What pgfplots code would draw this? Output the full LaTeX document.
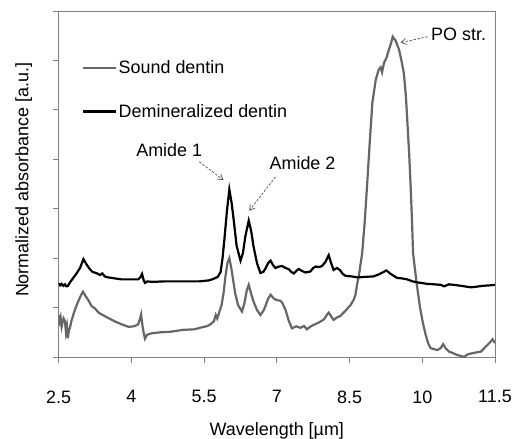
\documentclass[border=0pt]{standalone}
\usepackage{fontspec}
\setmainfont{Liberation Sans}
\usepackage{pgfplots}
\pgfplotsset{compat=1.18}
\usetikzlibrary{arrows.meta}

\definecolor{soundgray}{HTML}{666666}
\definecolor{axgray}{HTML}{808080}
\definecolor{arrgray}{HTML}{505050}

\newcommand{\lblfont}{\fontsize{18}{21}\selectfont}

\begin{document}
\begin{tikzpicture}
\path[use as bounding box] (-58.7bp,-82bp) rectangle (456.3bp,357bp);
\begin{axis}[
    scale only axis, width=436.3bp, height=346bp,
    at={(0,0)}, anchor=south west,
    xmin=2.5, xmax=11.5, ymin=0, ymax=7,
    xtick={2.5,4,5.5,7,8.5,10,11.5},
    xticklabels={2.5,4,5.5,7,8.5,10,11.5},
    ytick={0,1,...,7}, yticklabels={},
    tick align=outside, tick pos=left, major tick length=6bp,
    axis line style={axgray, line width=0.8bp},
    every tick/.style={axgray, line width=0.8bp},
    /pgf/number format/assume math mode=true,
    tick label style={font=\lblfont},
    xticklabel style={yshift=-24bp},
    xlabel={Wavelength [µm]},
    ylabel={Normalized absorbance [a.u.]},
    label style={font=\lblfont},
    xlabel style={at={(axis description cs:0.5,0)}, anchor=north, yshift=-62bp},
    ylabel style={at={(axis description cs:-0.08,0.512)}, anchor=center},
    legend style={draw=none, fill=none, at={(axis description cs:0.045,0.868)},
        anchor=north west, font=\lblfont, row sep=25bp},
    legend cell align=left,
    legend image code/.code={\draw[#1] (0bp,0bp) -- (33bp,0bp);},
]
% sound dentin
\addplot[soundgray, line width=2.2bp] coordinates {
(2.50,0.85)(2.52,0.72)(2.54,0.80)(2.56,0.61)(2.58,0.70)(2.60,0.78)(2.63,0.72)
(2.65,0.50)(2.67,0.62)(2.69,0.38)(2.71,0.55)(2.73,0.58)(2.76,0.72)(2.80,0.85)
(2.84,0.97)(2.90,1.12)(2.96,1.25)(3.00,1.32)(3.05,1.24)(3.11,1.15)(3.18,1.03)
(3.25,0.98)(3.32,0.90)(3.39,0.86)(3.50,0.80)(3.66,0.72)(3.80,0.66)(3.94,0.61)
(4.05,0.62)(4.14,0.66)(4.18,0.78)(4.20,0.86)(4.23,0.62)(4.26,0.45)(4.28,0.37)
(4.32,0.45)(4.42,0.48)(4.60,0.50)(4.80,0.51)(5.07,0.55)(5.30,0.56)(5.45,0.60)
(5.55,0.62)(5.63,0.66)(5.70,0.72)(5.74,0.85)(5.77,0.78)(5.81,0.90)(5.86,1.05)
(5.90,1.29)(5.94,1.63)(5.98,1.90)(6.02,2.00)(6.06,1.80)(6.10,1.55)(6.14,1.29)
(6.20,1.05)(6.28,0.92)(6.33,1.08)(6.38,1.35)(6.42,1.46)(6.47,1.28)(6.52,1.12)
(6.59,0.95)(6.66,0.85)(6.72,0.93)(6.76,1.02)(6.82,1.18)(6.87,1.26)(6.94,1.18)
(7.00,1.15)(7.07,1.14)(7.11,1.10)(7.18,0.95)(7.24,0.75)(7.31,0.58)(7.40,0.62)
(7.49,0.59)(7.56,0.63)(7.62,0.56)(7.70,0.62)(7.76,0.65)(7.87,0.70)(7.97,0.76)
(8.03,0.85)(8.07,0.90)(8.12,0.82)(8.17,0.75)(8.24,0.80)(8.31,0.83)(8.40,0.92)
(8.52,1.05)(8.58,1.15)(8.62,1.25)(8.66,1.50)(8.69,1.63)(8.76,2.10)(8.81,2.70)
(8.86,3.45)(8.92,4.40)(8.97,5.14)(9.04,5.61)(9.10,5.81)(9.14,5.86)(9.17,5.76)
(9.21,5.95)(9.26,6.05)(9.31,6.21)(9.35,6.33)(9.39,6.48)(9.45,6.40)(9.52,6.22)
(9.57,6.00)(9.62,5.74)(9.66,5.30)(9.69,4.80)(9.73,4.10)(9.76,3.45)(9.79,2.70)
(9.81,2.10)(9.88,1.52)(9.95,1.02)(10.01,0.70)(10.07,0.45)(10.12,0.28)(10.17,0.18)
(10.24,0.16)(10.31,0.14)(10.38,0.18)(10.43,0.26)(10.48,0.18)(10.55,0.11)(10.63,0.08)
(10.72,0.04)(10.80,0.02)(10.86,0.00)(10.93,0.05)(11.00,0.07)(11.10,0.09)(11.21,0.11)
(11.28,0.18)(11.34,0.24)(11.40,0.30)(11.45,0.36)(11.50,0.28)
};
\addlegendentry{Sound dentin}
% demineralized dentin
\addplot[black, line width=2.2bp] coordinates {
(2.50,1.49)(2.53,1.45)(2.56,1.48)(2.60,1.44)(2.63,1.47)(2.66,1.43)(2.69,1.44)
(2.74,1.52)(2.80,1.60)(2.86,1.68)(2.94,1.80)(3.01,1.98)(3.07,1.88)(3.14,1.78)
(3.20,1.72)(3.27,1.70)(3.35,1.66)(3.40,1.69)(3.45,1.63)(3.52,1.61)(3.60,1.60)
(3.66,1.59)(3.80,1.57)(3.95,1.57)(4.14,1.57)(4.19,1.62)(4.22,1.68)(4.25,1.56)
(4.28,1.50)(4.33,1.53)(4.42,1.52)(4.70,1.53)(5.07,1.53)(5.40,1.53)(5.60,1.55)
(5.69,1.58)(5.78,1.62)(5.84,1.72)(5.88,2.00)(5.92,2.40)(5.97,2.95)(6.02,3.39)
(6.07,3.10)(6.11,2.77)(6.17,2.25)(6.25,1.95)(6.30,2.10)(6.35,2.44)(6.42,2.76)
(6.47,2.55)(6.52,2.23)(6.59,1.90)(6.66,1.70)(6.72,1.72)(6.76,1.78)(6.82,1.90)
(6.87,1.95)(6.92,1.86)(6.97,1.80)(7.04,1.83)(7.11,1.84)(7.18,1.80)(7.24,1.78)
(7.30,1.72)(7.35,1.69)(7.41,1.75)(7.45,1.78)(7.52,1.74)(7.59,1.71)(7.69,1.73)
(7.75,1.80)(7.80,1.83)(7.87,1.82)(7.93,1.84)(8.00,1.92)(8.07,2.06)(8.12,1.90)
(8.17,1.76)(8.24,1.80)(8.30,1.76)(8.36,1.68)(8.42,1.64)(8.55,1.63)(8.66,1.61)
(8.80,1.62)(8.99,1.63)(9.10,1.67)(9.20,1.72)(9.26,1.75)(9.35,1.68)(9.48,1.60)
(9.58,1.59)(9.69,1.57)(9.80,1.53)(9.90,1.51)(10.10,1.48)(10.25,1.47)(10.38,1.46)
(10.45,1.43)(10.55,1.47)(10.65,1.46)(10.80,1.44)(11.00,1.41)(11.10,1.42)(11.25,1.44)
(11.40,1.45)(11.50,1.46)
};
\addlegendentry{Demineralized dentin}

% peak annotations
\node[font=\lblfont] at (axis cs:4.78,4.19) {Amide 1};
\node[font=\lblfont] at (axis cs:7.53,3.93) {Amide 2};
\node[font=\lblfont] at (axis cs:10.75,6.52) {PO str.};
\draw[arrgray, line width=0.7bp, dash pattern=on 2.5bp off 1.5bp, -{Straight Barb[length=5bp,width=6bp]}]
    (axis cs:5.40,3.95) -- (axis cs:5.90,3.58);
\draw[arrgray, line width=0.7bp, dash pattern=on 2.5bp off 1.5bp, -{Straight Barb[length=5bp,width=6bp]}]
    (axis cs:6.97,3.64) -- (axis cs:6.43,2.96);
\draw[arrgray, line width=0.7bp, dash pattern=on 2.5bp off 1.5bp, -{Straight Barb[length=5bp,width=6bp]}]
    (axis cs:10.11,6.48) -- (axis cs:9.55,6.36);
\end{axis}
\end{tikzpicture}
\end{document}
